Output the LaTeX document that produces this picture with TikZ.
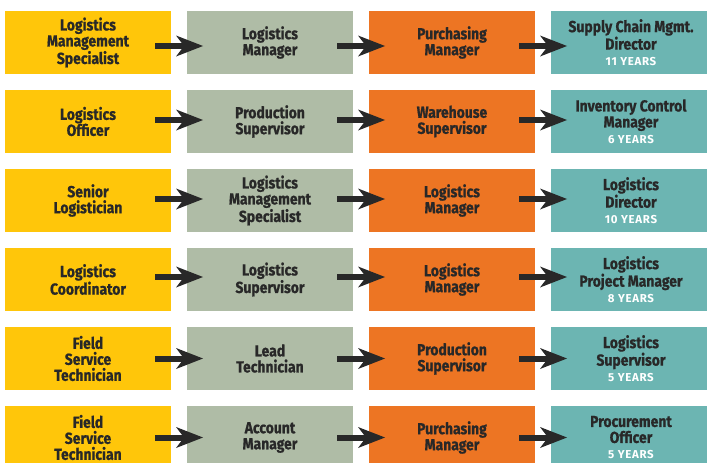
\documentclass[tikz,border=0pt]{standalone}
\usepackage{fontspec}
\setmainfont[FakeStretch=0.87,BoldFeatures={FakeBold=0.8}]{Fira Sans}
\newfontfamily\yearsfont[LetterSpace=6]{Fira Sans}
\usetikzlibrary{arrows.meta}
\definecolor{cyel}{RGB}{255,198,10}
\definecolor{cgray}{RGB}{175,188,166}
\definecolor{corange}{RGB}{237,117,35}
\definecolor{cteal}{RGB}{108,181,178}
\definecolor{ctext}{RGB}{40,40,40}
\begin{document}
\begin{tikzpicture}[x=1pt,y=-1pt,
  box/.style={minimum width=166pt,minimum height=63pt,inner sep=0pt,outer sep=0pt,
    align=center,text=ctext,font=\bfseries\fontsize{16}{16}\selectfont},
  yb/.style={box,fill=cyel},
  gb/.style={box,fill=cgray},
  ob/.style={box,fill=corange},
  tb/.style={box,fill=cteal,minimum width=160pt},
  conn/.style={draw=ctext,line width=6pt,-{Stealth[length=27pt,width=21pt,inset=8pt,line width=0pt]}}]
\useasboundingbox (0,0) rectangle (707,463);
\newcommand{\yrs}[1]{{\yearsfont\bfseries\fontsize{11.5}{16}\selectfont\color{white}#1}}
% row 1
\node[yb] (a1) at (88,42.5) {Logistics\\Management\\Specialist};
\node[gb] (b1) at (270,42.5) {Logistics\\Manager};
\node[ob] (c1) at (452,42.5) {Purchasing\\Manager};
\node[tb] (d1) at (631,42.5) {Supply Chain Mgmt.\\Director\\\yrs{11 YEARS}};
% row 2
\node[yb] (a2) at (88,121.5) {Logistics\\Officer};
\node[gb] (b2) at (270,121.5) {Production\\Supervisor};
\node[ob] (c2) at (452,121.5) {Warehouse\\Supervisor};
\node[tb] (d2) at (631,121.5) {Inventory Control\\Manager\\\yrs{6 YEARS}};
% row 3
\node[yb] (a3) at (88,200.5) {Senior\\Logistician};
\node[gb] (b3) at (270,200.5) {Logistics\\Management\\Specialist};
\node[ob] (c3) at (452,200.5) {Logistics\\Manager};
\node[tb] (d3) at (631,200.5) {Logistics\\Director\\\yrs{10 YEARS}};
% row 4
\node[yb] (a4) at (88,279.5) {Logistics\\Coordinator};
\node[gb] (b4) at (270,279.5) {Logistics\\Supervisor};
\node[ob] (c4) at (452,279.5) {Logistics\\Manager};
\node[tb] (d4) at (631,279.5) {Logistics\\Project Manager\\\yrs{8 YEARS}};
% row 5
\node[yb] (a5) at (88,358.5) {Field\\Service\\Technician};
\node[gb] (b5) at (270,358.5) {Lead\\Technician};
\node[ob] (c5) at (452,358.5) {Production\\Supervisor};
\node[tb] (d5) at (631,358.5) {Logistics\\Supervisor\\\yrs{5 YEARS}};
% row 6
\node[yb] (a6) at (88,437.5) {Field\\Service\\Technician};
\node[gb] (b6) at (270,437.5) {Account\\Manager};
\node[ob] (c6) at (452,437.5) {Purchasing\\Manager};
\node[tb] (d6) at (631,437.5) {Procurement\\Officer\\\yrs{5 YEARS}};
% connectors
\foreach \r/\s in {1/-3.5,2/1.5,3/1.5,4/2.5,5/0,6/0}{
  \draw[conn] ([xshift=-16pt,yshift=\s pt]a\r.east) -- ([xshift=16pt,yshift=\s pt]b\r.west);
  \draw[conn] ([xshift=-16pt,yshift=\s pt]b\r.east) -- ([xshift=16pt,yshift=\s pt]c\r.west);
  \draw[conn] ([xshift=-16pt,yshift=\s pt]c\r.east) -- ([xshift=16pt,yshift=\s pt]d\r.west);
}
\end{tikzpicture}
\end{document}
